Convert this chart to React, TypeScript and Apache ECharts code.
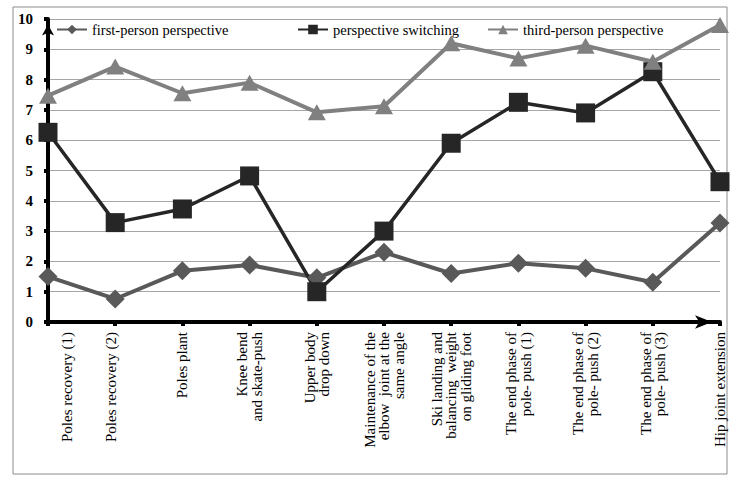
import { useEffect, useRef } from "react";
import * as echarts from "echarts";

const categories = [
  "Poles recovery (1)",
  "Poles recovery (2)",
  "Poles plant",
  "Knee bend\nand skate-push",
  "Upper body\ndrop down",
  "Maintenance of the\nelbow  joint at the\nsame angle",
  "Ski landing and\nbalancing  weight\non gliding foot",
  "The end phase of\npole- push (1)",
  "The end phase of\npole- push (2)",
  "The end phase of\npole- push (3)",
  "Hip joint extension",
];

const firstPerson = [1.5, 0.76, 1.69, 1.88, 1.46, 2.3, 1.6, 1.94, 1.77, 1.31, 3.27];
const switching = [6.26, 3.28, 3.73, 4.82, 1.0, 3.0, 5.9, 7.25, 6.9, 8.26, 4.63];
const thirdPerson = [7.47, 8.43, 7.55, 7.9, 6.92, 7.12, 9.2, 8.7, 9.12, 8.59, 9.8];

const serif = "Liberation Serif";

function legendAt(left: number, name: string) {
  return {
    left,
    top: 22,
    padding: 0,
    itemWidth: 30,
    itemHeight: 12,
    data: [name],
    selectedMode: false,
    textStyle: { fontFamily: serif, fontSize: 14.5, color: "#000", padding: [8, 0, 0, 0] },
  };
}

export default function App() {
  const ref = useRef<HTMLDivElement>(null);

  useEffect(() => {
    if (!ref.current) return;
    const chart = echarts.init(ref.current, undefined, { renderer: "svg" });
    chart.setOption({
      animation: false,
      backgroundColor: "#fff",
      textStyle: { fontFamily: serif },
      graphic: [
        {
          type: "rect",
          shape: { x: 13, y: 7, width: 714, height: 467 },
          style: { fill: "none", stroke: "#8c8c8c", lineWidth: 1 },
          silent: true,
        },
      ],
      legend: [
        legendAt(56, "first-person perspective"),
        legendAt(297, "perspective switching"),
        legendAt(487, "third-person perspective"),
      ],
      grid: { left: 48, right: 26, top: 19, bottom: 173 },
      xAxis: {
        type: "category",
        data: categories,
        boundaryGap: false,
        axisLine: {
          lineStyle: { color: "#000", width: 4 },
          symbol: ["none", "arrow"],
          symbolSize: [10, 17],
          symbolOffset: [0, -8],
        },
        axisTick: { show: true, length: 4, lineStyle: { color: "#000", width: 4 } },
        axisLabel: {
          interval: 0,
          rotate: 90,
          margin: 10,
          fontFamily: serif,
          fontSize: 15,
          lineHeight: 14.5,
          color: "#000",
          formatter: (v: string, i: number) =>
            i === 0 ? `{a|${v}}` : i === 1 ? `{b|${v}}` : v,
          rich: {
            a: { fontFamily: serif, fontSize: 15, color: "#000", padding: [38, 0, 0, 0] },
            b: { fontFamily: serif, fontSize: 15, color: "#000", padding: [0, 0, 8, 0] },
          },
        },
        splitLine: { show: false },
      },
      yAxis: {
        type: "value",
        min: 0,
        max: 10,
        interval: 1,
        axisLine: {
          show: true,
          lineStyle: { color: "#000", width: 4 },
          symbol: ["none", "arrow"],
          symbolSize: [9, 11],
          symbolOffset: [0, -5.5],
        },
        axisTick: { show: true, length: 4, lineStyle: { color: "#000", width: 4 } },
        axisLabel: {
          margin: 15,
          fontFamily: serif,
          fontSize: 15,
          fontWeight: "bold",
          color: "#000",
        },
        splitLine: { lineStyle: { color: "#a6a6a6", width: 1 } },
      },
      series: [
        {
          name: "first-person perspective",
          type: "line",
          data: firstPerson,
          symbol: "diamond",
          symbolSize: 19,
          lineStyle: { color: "#595959", width: 4 },
          itemStyle: { color: "#595959" },
        },
        {
          name: "perspective switching",
          type: "line",
          data: switching,
          symbol: "rect",
          symbolSize: 19,
          lineStyle: { color: "#262626", width: 3.5 },
          itemStyle: { color: "#262626" },
        },
        {
          name: "third-person perspective",
          type: "line",
          data: thirdPerson,
          symbol: "triangle",
          symbolSize: [18, 16],
          lineStyle: { color: "#808080", width: 4 },
          itemStyle: { color: "#808080" },
        },
      ],
    });
    return () => chart.dispose();
  }, []);

  return (
    <div
      ref={ref}
      style={{ position: "absolute", left: 0, top: 0, width: 746, height: 495 }}
    />
  );
}
